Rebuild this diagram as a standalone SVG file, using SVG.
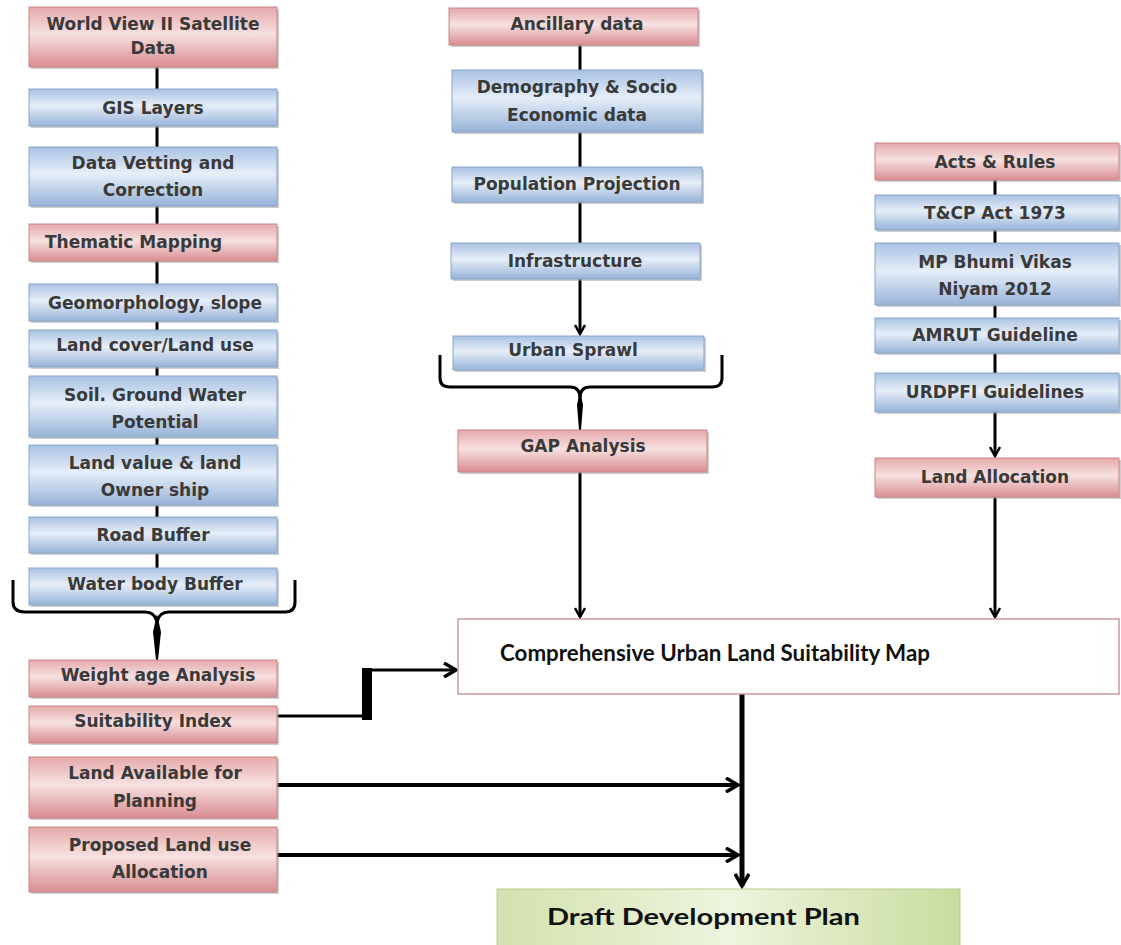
<svg xmlns="http://www.w3.org/2000/svg" width="1121" height="945" viewBox="0 0 1121 945">
<defs>
<linearGradient id="gr" x1="0" y1="0" x2="0" y2="1">
<stop offset="0" stop-color="#e6a9ab"/><stop offset="0.45" stop-color="#f6e0e0"/><stop offset="1" stop-color="#d98d91"/>
</linearGradient>
<linearGradient id="gb" x1="0" y1="0" x2="0" y2="1">
<stop offset="0" stop-color="#a9c2e2"/><stop offset="0.45" stop-color="#e6eef8"/><stop offset="1" stop-color="#97b3d8"/>
</linearGradient>
<linearGradient id="gg" x1="0" y1="0" x2="1" y2="0">
<stop offset="0" stop-color="#d2e2ad"/><stop offset="0.5" stop-color="#eef4de"/><stop offset="1" stop-color="#c9dc9f"/>
</linearGradient>
<marker id="ah" viewBox="0 0 12 12" refX="10" refY="6" markerWidth="12" markerHeight="12" markerUnits="userSpaceOnUse" orient="auto">
<path d="M1,1 L10,6 L1,11" fill="none" stroke="#000" stroke-width="2.5"/>
</marker>
<marker id="ahb" viewBox="0 0 16 16" refX="13" refY="8" markerWidth="16" markerHeight="16" markerUnits="userSpaceOnUse" orient="auto">
<path d="M1,1 L13,8 L1,15" fill="none" stroke="#000" stroke-width="3.5"/>
</marker>
</defs>
<style>
.r{fill:url(#gr);stroke:#c88589;stroke-width:1}
.b{fill:url(#gb);stroke:#89a5cb;stroke-width:1}
.sh{fill:#9a9a9a;opacity:0.5}
text{font-family:"DejaVu Sans","Liberation Sans",sans-serif;font-size:17px;font-weight:bold;fill:#3a3a3a;text-anchor:middle}
.big{font-family:Lato,"Liberation Sans",sans-serif;font-size:22px;fill:#111;text-anchor:start}
.c{fill:none;stroke:#000;stroke-width:3}
</style>
<rect width="1121" height="945" fill="#fff"/>

<g id="connectors">
<line class="c" x1="157" y1="67" x2="157" y2="89"/>
<line class="c" x1="157" y1="126" x2="157" y2="147"/>
<line class="c" x1="157" y1="206" x2="157" y2="224"/>
<line class="c" x1="157" y1="261" x2="157" y2="284"/>
<line class="c" x1="157" y1="321" x2="157" y2="330"/>
<line class="c" x1="157" y1="367" x2="157" y2="376"/>
<line class="c" x1="157" y1="437" x2="157" y2="445"/>
<line class="c" x1="157" y1="505" x2="157" y2="517"/>
<line class="c" x1="157" y1="553" x2="157" y2="568"/>
<path class="c" d="M13,580 V602 Q13,612 25,612 H145 Q155,612 157,622 Q159,612 169,612 H285 Q295,612 295,602 V580"/>
<path d="M157,614 L153,632 L156,660 L158,660 L161,632 Z" fill="#000"/>
<polyline class="c" points="277,716 367,716"/>
<line x1="367" y1="720" x2="367" y2="668" stroke="#000" stroke-width="10"/>
<line x1="362" y1="670" x2="456" y2="670" stroke="#000" stroke-width="3" marker-end="url(#ahb)"/>
<line class="c" x1="580" y1="45" x2="580" y2="70"/>
<line class="c" x1="580" y1="132" x2="580" y2="167"/>
<line class="c" x1="580" y1="202" x2="580" y2="243"/>
<line class="c" x1="580" y1="279" x2="580" y2="334" marker-end="url(#ah)"/>
<path class="c" d="M440,355 V378 Q440,387 450,387 H570 Q580,387 580,398 Q580,387 590,387 H712 Q722,387 722,378 V355"/>
<path d="M580,390 L577,405 L579,430 L581,430 L583,405 Z" fill="#000"/>
<line class="c" x1="580" y1="472" x2="580" y2="617" marker-end="url(#ah)"/>
<line class="c" x1="995" y1="180" x2="995" y2="195"/>
<line class="c" x1="995" y1="230" x2="995" y2="243"/>
<line class="c" x1="995" y1="305" x2="995" y2="318"/>
<line class="c" x1="995" y1="353" x2="995" y2="373"/>
<line class="c" x1="995" y1="412" x2="995" y2="456" marker-end="url(#ah)"/>
<line class="c" x1="995" y1="497" x2="995" y2="617" marker-end="url(#ah)"/>
<line x1="742" y1="694" x2="742" y2="886" stroke="#000" stroke-width="5" marker-end="url(#ahb)"/>
<line x1="277" y1="785" x2="738" y2="785" stroke="#000" stroke-width="4" marker-end="url(#ahb)"/>
<line x1="277" y1="855" x2="738" y2="855" stroke="#000" stroke-width="4" marker-end="url(#ahb)"/>
</g>

<g id="n-worldview"><rect class="sh" x="31" y="9" width="248" height="60"/><rect class="r" x="29" y="7" width="248" height="60"/><text x="153" y="30">World View II Satellite</text><text x="153" y="54">Data</text></g>
<g id="n-gis"><rect class="sh" x="31" y="91" width="248" height="37"/><rect class="b" x="29" y="89" width="248" height="37"/><text x="153" y="114">GIS Layers</text></g>
<g id="n-vetting"><rect class="sh" x="31" y="149" width="248" height="59"/><rect class="b" x="29" y="147" width="248" height="59"/><text x="153" y="169">Data Vetting and</text><text x="153" y="196">Correction</text></g>
<g id="n-thematic"><rect class="sh" x="31" y="226" width="248" height="37"/><rect class="r" x="29" y="224" width="248" height="37"/><text x="45" y="248" style="text-anchor:start">Thematic Mapping</text></g>
<g id="n-geomorph"><rect class="sh" x="31" y="286" width="248" height="37"/><rect class="b" x="29" y="284" width="248" height="37"/><text x="155" y="309">Geomorphology, slope</text></g>
<g id="n-landcover"><rect class="sh" x="31" y="332" width="248" height="37"/><rect class="b" x="29" y="330" width="248" height="37"/><text x="155" y="351">Land cover/Land use</text></g>
<g id="n-soil"><rect class="sh" x="31" y="378" width="248" height="61"/><rect class="b" x="29" y="376" width="248" height="61"/><text x="155" y="401">Soil. Ground Water</text><text x="155" y="428">Potential</text></g>
<g id="n-landvalue"><rect class="sh" x="31" y="447" width="248" height="60"/><rect class="b" x="29" y="445" width="248" height="60"/><text x="155" y="469">Land value &amp; land</text><text x="155" y="496">Owner ship</text></g>
<g id="n-road"><rect class="sh" x="31" y="519" width="248" height="36"/><rect class="b" x="29" y="517" width="248" height="36"/><text x="153" y="541">Road Buffer</text></g>
<g id="n-water"><rect class="sh" x="31" y="570" width="248" height="37"/><rect class="b" x="29" y="568" width="248" height="37"/><text x="155" y="590">Water body Buffer</text></g>
<g id="n-weight"><rect class="sh" x="31" y="662" width="248" height="37"/><rect class="r" x="29" y="660" width="248" height="37"/><text x="158" y="681">Weight age Analysis</text></g>
<g id="n-suit"><rect class="sh" x="31" y="708" width="248" height="37"/><rect class="r" x="29" y="706" width="248" height="37"/><text x="153" y="727">Suitability Index</text></g>
<g id="n-landavail"><rect class="sh" x="31" y="759" width="248" height="61"/><rect class="r" x="29" y="757" width="248" height="61"/><text x="155" y="779">Land Available for</text><text x="155" y="807">Planning</text></g>
<g id="n-proposed"><rect class="sh" x="31" y="829" width="248" height="65"/><rect class="r" x="29" y="827" width="248" height="65"/><text x="160" y="851">Proposed Land use</text><text x="160" y="878">Allocation</text></g>

<g id="n-ancillary"><rect class="sh" x="451" y="10" width="249" height="37"/><rect class="r" x="449" y="8" width="249" height="37"/><text x="577" y="30">Ancillary data</text></g>
<g id="n-demo"><rect class="sh" x="454" y="72" width="250" height="62"/><rect class="b" x="452" y="70" width="250" height="62"/><text x="577" y="93">Demography &amp; Socio</text><text x="577" y="121">Economic data</text></g>
<g id="n-pop"><rect class="sh" x="454" y="169" width="250" height="35"/><rect class="b" x="452" y="167" width="250" height="35"/><text x="577" y="190">Population Projection</text></g>
<g id="n-infra"><rect class="sh" x="453" y="245" width="249" height="36"/><rect class="b" x="451" y="243" width="249" height="36"/><text x="575" y="267">Infrastructure</text></g>
<g id="n-sprawl"><rect class="sh" x="455" y="338" width="251" height="34"/><rect class="b" x="453" y="336" width="251" height="34"/><text x="573" y="356">Urban Sprawl</text></g>
<g id="n-gap"><rect class="sh" x="460" y="432" width="249" height="42"/><rect class="r" x="458" y="430" width="249" height="42"/><text x="583" y="452">GAP Analysis</text></g>

<g id="n-acts"><rect class="sh" x="877" y="145" width="244" height="37"/><rect class="r" x="875" y="143" width="244" height="37"/><text x="995" y="168">Acts &amp; Rules</text></g>
<g id="n-tcp"><rect class="sh" x="877" y="197" width="244" height="35"/><rect class="b" x="875" y="195" width="244" height="35"/><text x="995" y="219">T&amp;CP Act 1973</text></g>
<g id="n-mp"><rect class="sh" x="877" y="245" width="244" height="62"/><rect class="b" x="875" y="243" width="244" height="62"/><text x="995" y="268">MP Bhumi Vikas</text><text x="995" y="295">Niyam 2012</text></g>
<g id="n-amrut"><rect class="sh" x="877" y="320" width="244" height="35"/><rect class="b" x="875" y="318" width="244" height="35"/><text x="995" y="341">AMRUT Guideline</text></g>
<g id="n-urdpfi"><rect class="sh" x="877" y="375" width="244" height="39"/><rect class="b" x="875" y="373" width="244" height="39"/><text x="995" y="398">URDPFI Guidelines</text></g>
<g id="n-landalloc"><rect class="sh" x="877" y="460" width="244" height="39"/><rect class="r" x="875" y="458" width="244" height="39"/><text x="995" y="483">Land Allocation</text></g>

<g id="n-map"><rect x="458" y="619" width="661" height="75" fill="#fff" stroke="#c99a9c" stroke-width="1.5"/><text class="big" x="500" y="661" textLength="430" lengthAdjust="spacingAndGlyphs">Comprehensive Urban Land Suitability Map</text></g>
<g id="n-draft"><rect x="497" y="889" width="463" height="60" fill="url(#gg)" stroke="#b9cc8e" stroke-width="1"/><text class="big" x="547" y="925" textLength="313" lengthAdjust="spacingAndGlyphs">Draft Development Plan</text></g>
</svg>
